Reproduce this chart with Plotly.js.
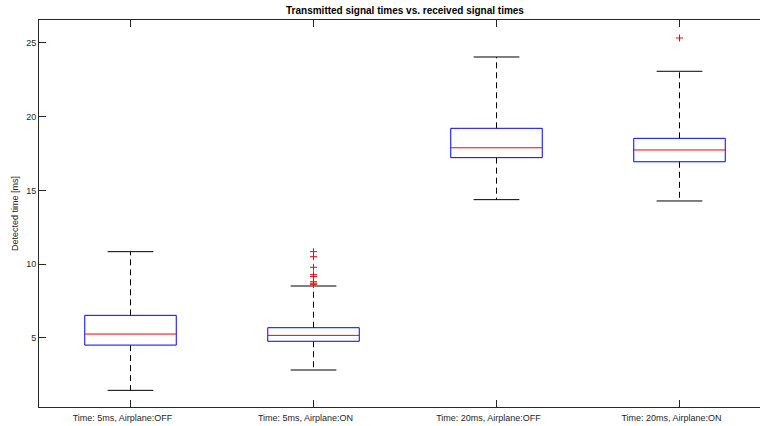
<!DOCTYPE html>
<html>
<head>
<meta charset="utf-8">
<script src="https://cdn.plot.ly/plotly-3.0.1.min.js"></script>
<style>html,body{margin:0;padding:0;background:#fff;}#chart{width:760px;height:426px;}</style>
</head>
<body>
<div id="chart"></div>
<script>
const categories = ['Time: 5ms, Airplane:OFF', 'Time: 5ms, Airplane:ON', 'Time: 20ms, Airplane:OFF', 'Time: 20ms, Airplane:ON'];
const lowerWhisker = [1.43, 2.81, 14.37, 14.28];
const q1 = [4.50, 4.76, 17.22, 16.94];
const medians = [5.25, 5.16, 17.89, 17.74];
const q3 = [6.52, 5.68, 19.21, 18.53];
const upperWhisker = [10.84, 8.51, 24.05, 23.08];
const outliers = [[], [10.84, 10.5, 9.78, 9.28, 9.15, 8.8, 8.7, 8.62], [], [25.34]];

const halfBox = 0.25, halfCap = 0.125;
const wx = [], wy = [], cx = [], cy = [], bx = [], by = [], mx = [], my = [], ox = [], oy = [];
categories.forEach((c, k) => {
  const i = k + 1;
  wx.push(i, i, null, i, i, null);
  wy.push(q3[k], upperWhisker[k], null, q1[k], lowerWhisker[k], null);
  cx.push(i - halfCap, i + halfCap, null, i - halfCap, i + halfCap, null);
  cy.push(upperWhisker[k], upperWhisker[k], null, lowerWhisker[k], lowerWhisker[k], null);
  bx.push(i - halfBox, i + halfBox, i + halfBox, i - halfBox, i - halfBox, null);
  by.push(q1[k], q1[k], q3[k], q3[k], q1[k], null);
  mx.push(i - halfBox, i + halfBox, null);
  my.push(medians[k], medians[k], null);
  outliers[k].forEach(v => { ox.push(i); oy.push(v); });
});

const traces = [
  {x: wx, y: wy, mode: 'lines', line: {color: '#000', width: 1, dash: '6px,4px'}, hoverinfo: 'skip'},
  {x: cx, y: cy, mode: 'lines', line: {color: '#000', width: 1}, hoverinfo: 'skip'},
  {x: bx, y: by, mode: 'lines', line: {color: '#0000ff', width: 1}, hoverinfo: 'skip'},
  {x: mx, y: my, mode: 'lines', line: {color: '#ff0000', width: 1}, hoverinfo: 'skip'},
  {x: ox, y: oy, mode: 'markers', marker: {symbol: 'cross-thin-open', size: 5, color: '#ff0000', line: {color: '#ff0000', width: 1}}, hoverinfo: 'skip'}
];

const font = {family: 'Liberation Sans, Arial, sans-serif', size: 9, color: '#262626'};
const layout = {
  width: 760, height: 426,
  margin: {l: 39, r: 0, t: 20, b: 19, pad: 0},
  showlegend: false,
  paper_bgcolor: '#fff', plot_bgcolor: '#fff',
  font: font,
  title: {text: '<b>Transmitted signal times vs. received signal times</b>', font: {family: font.family, size: 10, color: '#000'},
          x: 405 / 760, xref: 'container', xanchor: 'center', y: 1 - 10 / 426, yref: 'container', yanchor: 'middle'},
  xaxis: {
    range: [0.5, 0.5 + 721 / 183],
    tickvals: [1, 2, 3, 4], ticktext: categories,
    ticks: 'inside', ticklen: 7, tickcolor: '#262626', tickwidth: 1,
    ticklabelshift: -8, ticklabelstandoff: 2,
    showline: true, linecolor: '#262626', linewidth: 1, mirror: 'ticks',
    showgrid: false, zeroline: false, automargin: false,
    tickfont: font, fixedrange: true
  },
  yaxis: {
    range: [0.3, 26.56],
    tickvals: [5, 10, 15, 20, 25],
    ticks: 'inside', ticklen: 7, tickcolor: '#262626', tickwidth: 1,
    showline: true, linecolor: '#262626', linewidth: 1, mirror: false,
    showgrid: false, zeroline: false, automargin: false,
    tickfont: font,
    title: {text: 'Detected time [ms]', font: font, standoff: 6},
    fixedrange: true
  }
};
Plotly.newPlot('chart', traces, layout, {staticPlot: true, displayModeBar: false});
</script>
</body>
</html>
